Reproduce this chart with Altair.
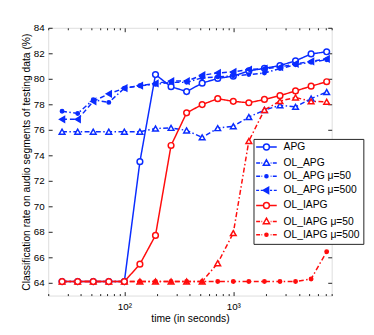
import altair as alt
import pandas as pd

# ---- data ----
times = [26.8, 37.3, 51.8, 72.0, 100.0, 138.9, 193.1, 268.3, 372.8, 517.9,
         719.7, 1000.0, 1389.0, 1931.0, 2683.0, 3728.0, 5179.0, 7197.0]

series_names = ["APG", "OL_APG", "OL_APG \u03bc=50", "OL_APG \u03bc=500",
                "OL_IAPG", "OL_IAPG \u03bc=50", "OL_IAPG \u03bc=500"]

apg = [64.1, 64.1, 64.1, 64.1, 64.1, 73.5, 80.33, 79.38, 79.0, 79.66,
       80.03, 80.21, 80.62, 80.82, 81.04, 81.41, 81.95, 82.12]
ol_apg = [75.85, 75.85, 75.85, 75.85, 75.85, 75.85, 76.1, 76.15, 75.95, 75.41,
          76.13, 76.28, 77.0, 77.55, 77.92, 77.8, 78.45, 78.96]
ol_apg_50 = [77.46, 77.28, 78.36, 78.15, 79.26, 79.46, 79.56, 79.72, 79.72, 80.08,
             80.15, 80.23, 80.33, 80.46, 80.8, 81.1, 81.3, 81.5]
ol_apg_500 = [76.82, 76.82, 78.23, 78.82, 79.26, 79.46, 79.64, 79.82, 79.82, 80.28,
              80.46, 80.54, 80.72, 80.8, 80.92, 81.18, 81.36, 81.56]
ol_iapg = [64.1, 64.1, 64.1, 64.1, 64.1, 65.46, 67.72, 74.77, 77.33, 77.98,
           78.44, 78.23, 78.12, 78.38, 78.68, 79.05, 79.42, 79.77]
ol_iapg_50 = [64.1, 64.1, 64.1, 64.1, 64.1, 64.1, 64.1, 64.1, 64.1, 64.1,
              65.54, 67.9, 75.12, 77.56, 78.25, 78.54, 78.23, 78.2]
ol_iapg_500 = [64.1, 64.1, 64.1, 64.1, 64.1, 64.1, 64.1, 64.1, 64.1, 64.1,
               64.1, 64.1, 64.1, 64.1, 64.1, 64.1, 64.3, 66.44]

all_values = [apg, ol_apg, ol_apg_50, ol_apg_500, ol_iapg, ol_iapg_50, ol_iapg_500]
draw_order = [0, 1, 2, 3, 6, 4, 5]

x_major = [100, 1000]
x_minor = [20, 30, 40, 50, 60, 70, 80, 90, 200, 300, 400, 500, 600, 700, 800, 900,
           2000, 3000, 4000, 5000, 6000, 7000, 8000]
y_ticks = [64, 66, 68, 70, 72, 74, 76, 78, 80, 82, 84]

# ---- styles ----
BLUE = "#0a2cff"
RED = "#ff0d0d"
DOT = "M-0.6,0A0.6,0.6 0 1,0 0.6,0A0.6,0.6 0 1,0 -0.6,0Z"
colors = [BLUE, BLUE, BLUE, BLUE, RED, RED, RED]
DASHDOT = [5, 2.5, 1.5, 2.5]
dashes = [[1, 0], DASHDOT, DASHDOT, [5, 3], [1, 0], DASHDOT, DASHDOT]
shapes = ["circle", "triangle-up", DOT, "triangle-left",
          "circle", "triangle-up", DOT]
fills = ["white", "white", BLUE, BLUE, "white", "white", RED]

# legend glyphs (line sample + marker), in symbol units (1 unit = 2 px)
L_CIRC = "M-1.5,0A1.5,1.5 0 1,0 1.5,0A1.5,1.5 0 1,0 -1.5,0Z"
L_TRI = "M0,-1.7L1.6,1.1L-1.6,1.1Z"
L_TRIL = "M-1.7,0L1.1,-1.6L1.1,1.6Z"
L_DOT = "M-0.8,0A0.8,0.8 0 1,0 0.8,0A0.8,0.8 0 1,0 -0.8,0Z"
SOLID_L = "M-5.25,0L-1.5,0M1.5,0L5.25,0"
DASHDOT_L = "M-5.25,0L-3.25,0M-2.55,0L-2.15,0M2.15,0L2.55,0M3.25,0L5.25,0"
DASHED_L = "M-5.25,0L-3.75,0M-2.9,0L-1.8,0M1.8,0L2.9,0M3.75,0L5.25,0"
legend_glyphs = [SOLID_L + L_CIRC, DASHDOT_L + L_TRI, DASHDOT_L + L_DOT,
                 DASHED_L + L_TRIL, SOLID_L + L_CIRC, DASHDOT_L + L_TRI,
                 DASHDOT_L + L_DOT]

rows = []
for name, vals, z in zip(series_names, all_values, draw_order):
    for t, v in zip(times, vals):
        rows.append({"time": t, "value": v, "series": name, "z": z})
df = pd.DataFrame(rows)

W, H = 289, 273
FONT = "Liberation Sans"
INK = "#222222"

xscale = alt.Scale(type="log", domain=[20, 8000], nice=False)
yscale = alt.Scale(domain=[63, 84], nice=False, zero=False)

leg = alt.Legend(orient="none", legendX=209.3, legendY=113.3, title=None,
                 direction="vertical", symbolStrokeWidth=1.5, symbolSize=16,
                 symbolOffset=4.95, labelOffset=12.2, labelFont=FONT,
                 labelFontSize=10.5, labelColor="black", padding=3,
                 rowPadding=2.4, strokeColor=INK, fillColor="white")


def tick_axis(orient, offset, values, size):
    return alt.Axis(orient=orient, offset=offset, values=values, tickSize=size,
                    labels=False, domain=False, grid=False, title="",
                    ticks=True, tickColor=INK, tickWidth=1)


base = alt.Chart(df)

lines = base.mark_line(strokeWidth=1.5).encode(
    x=alt.X("time:Q", scale=xscale,
            axis=alt.Axis(orient="bottom", values=x_major,
                          labelExpr="datum.value == 100 ? '10\u00b2' : '10\u00b3'",
                          tickSize=0, domain=False, grid=False, labelPadding=6,
                          labelFontSize=10, labelColor="black", labelFont=FONT,
                          title="time (in seconds)", titleFontSize=10.5,
                          titleFontWeight="normal", titleFont=FONT, titleColor="black",
                          titleY=23, titleBaseline="middle")),
    y=alt.Y("value:Q", scale=yscale,
            axis=alt.Axis(orient="left", values=y_ticks, tickSize=0, domain=False,
                          grid=False, labelPadding=4, labelFontSize=10,
                          labelColor="black", labelFont=FONT, labelOverlap=False,
                          title="Classification rate on audio segments of testing data (%)",
                          titleFontSize=10.5, titleFontWeight="normal", titleFont=FONT,
                          titleColor="black", titleX=-22, titleY=H / 2,
                          titleAngle=270, titleAlign="center", titleBaseline="middle")),
    color=alt.Color("series:N", scale=alt.Scale(domain=series_names, range=colors),
                    legend=None),
    strokeDash=alt.StrokeDash("series:N", scale=alt.Scale(domain=series_names, range=dashes),
                              legend=None),
)

points = base.mark_point(opacity=1, size=34, strokeWidth=1.5).encode(
    x=alt.X("time:Q", scale=xscale, axis=tick_axis("top", -H, x_major, 4)),
    y=alt.Y("value:Q", scale=yscale, axis=tick_axis("right", -W, y_ticks, 4)),
    stroke=alt.Stroke("series:N", scale=alt.Scale(domain=series_names, range=colors),
                      legend=None),
    fill=alt.Fill("series:N", scale=alt.Scale(domain=series_names, range=fills),
                  legend=None),
    shape=alt.Shape("series:N", scale=alt.Scale(domain=series_names, range=shapes),
                    legend=None),
    order=alt.Order("z:Q"),
)

legend_layer = base.transform_filter(alt.datum.value < 0).mark_point(
    opacity=1, strokeWidth=1.5).encode(
    x=alt.X("time:Q", scale=xscale, axis=tick_axis("bottom", -H, x_major, 4)),
    y=alt.Y("value:Q", scale=yscale, axis=tick_axis("left", -W, y_ticks, 4)),
    stroke=alt.Stroke("series:N", scale=alt.Scale(domain=series_names, range=colors),
                      legend=leg),
    fill=alt.Fill("series:N", scale=alt.Scale(domain=series_names, range=fills),
                  legend=leg),
    shape=alt.Shape("series:N", scale=alt.Scale(domain=series_names, range=legend_glyphs),
                    legend=leg),
)

ticks4 = base.mark_point(opacity=0, size=1).encode(
    x=alt.X("time:Q", scale=xscale, axis=tick_axis("top", -H, x_minor, 2)),
    y=alt.Y("value:Q", scale=yscale, axis=None),
)
ticks5 = base.mark_point(opacity=0, size=1).encode(
    x=alt.X("time:Q", scale=xscale, axis=tick_axis("bottom", -H, x_minor, 2)),
    y=alt.Y("value:Q", scale=yscale, axis=None),
)

chart = alt.layer(lines, points, legend_layer, ticks4, ticks5).resolve_axis(
    x="independent", y="independent"
).resolve_scale(
    stroke="independent", fill="independent", shape="independent"
).properties(
    width=W, height=H,
    autosize=alt.AutoSizeParams(type="none"),
    padding={"left": 41, "top": 17, "right": 35, "bottom": 36},
    background="white",
).configure_view(stroke=INK, strokeWidth=1).configure(font=FONT)

chart.save("out.html", embed_options={"renderer": "svg", "actions": False})
